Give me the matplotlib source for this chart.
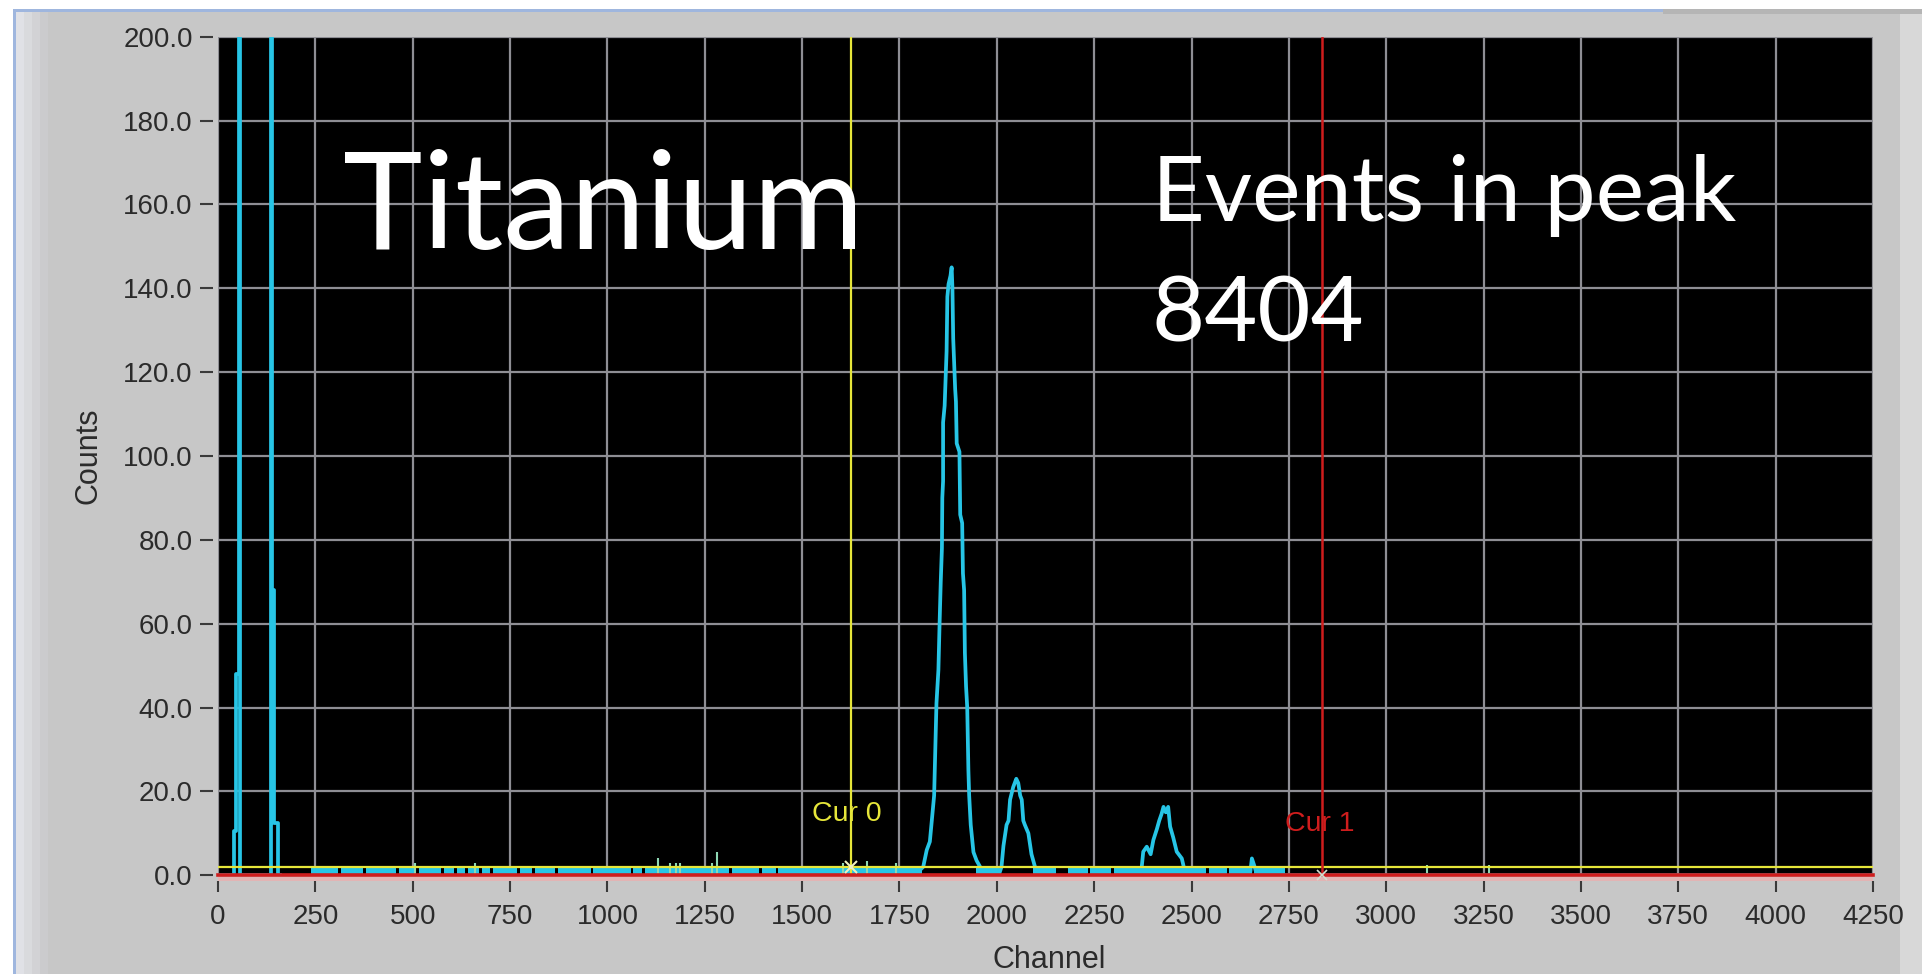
import matplotlib.pyplot as plt
from matplotlib.patches import Rectangle

# MCA spectrum, channel vs counts (points along the trace)
low_ch = [0, 36, 41, 41, 46, 46, 55, 55, 57, 57,
          136, 136, 138, 138, 144, 144, 153, 153, 160]
low_counts = [0, 0, 0, 10.5, 10.5, 48, 48, 350, 350, 0,
              0, 350, 350, 68, 68, 12.5, 12.5, 0, 0]

ka_ch = [1790, 1800, 1811, 1820, 1828, 1833, 1839, 1842, 1845, 1850, 1853,
         1856, 1859, 1860, 1862, 1862, 1866, 1871, 1873, 1876, 1881, 1884,
         1886, 1888, 1893, 1895, 1897, 1904, 1906, 1911, 1913, 1916, 1918,
         1921, 1924, 1927, 1929, 1933, 1940, 1948, 1957, 1965]
ka_counts = [0, 1, 2, 6, 8, 13, 19, 30, 41, 49, 60,
             70, 78, 90, 94, 108, 112, 125, 138, 141, 143, 145,
             140, 128, 116, 113, 103, 101, 86, 84, 72, 68, 53,
             45, 40, 25, 19, 12, 5.5, 3.5, 2, 0]

kb_ch = [2005, 2012, 2017, 2025, 2030, 2034, 2042, 2050, 2055, 2060,
         2064, 2068, 2072, 2081, 2089, 2098, 2105]
kb_counts = [0, 2, 7, 12, 13, 18, 21, 23, 22, 19,
             18, 13, 12, 10, 5, 2, 0]

p3_ch = [2370, 2376, 2385, 2395, 2402, 2411, 2417, 2423, 2428, 2434,
         2440, 2445, 2453, 2462, 2475, 2480, 2488]
p3_counts = [0, 5.6, 6.8, 5, 8.4, 11, 13, 14.6, 16.3, 15,
             16.3, 11.6, 9, 5.6, 4, 2, 0]

p4_ch = [2650, 2655, 2662, 2668, 4250]
p4_counts = [0, 4, 2, 0, 0]

# single-count background, drawn as runs of channels
band_start = [239, 315, 380, 465, 515, 580, 613, 641, 677, 705, 775, 813,
              872, 964, 1066, 1096, 1319, 1396, 1439, 1947, 2093, 2183,
              2240, 2300, 2376, 2496, 2545, 2595, 2660]
band_end = [309, 373, 458, 509, 573, 607, 635, 671, 699, 768, 807, 866,
            958, 1060, 1090, 1313, 1390, 1433, 1808, 2005, 2152, 2234,
            2294, 2370, 2525, 2538, 2590, 2652, 2741]
band_level = 1.0

spike_ch = [505, 660, 1130, 1160, 1175, 1186, 1268, 1281, 1606, 1667, 1740,
            3105, 3265]
spike_counts = [3, 3, 4, 3, 3, 3, 3, 5.5, 3, 3.5, 3, 2.5, 2.5]

cursor0 = (1625, 2.0)
cursor1 = (2836, 0.0)

x_ticks = list(range(0, 4251, 250))
y_ticks = list(range(0, 201, 20))

cyan = '#27c5e6'
yellow = '#e6e63a'
red = '#cf1d1d'

plt.rcParams['font.family'] = ['Liberation Sans', 'DejaVu Sans']

W, H = 1922, 974
fig = plt.figure(figsize=(W / 100, H / 100), dpi=100, facecolor='#c7c7c7')


def panel(x, y, w, h, color):
    # rectangle in pixels, measured from the top-left corner
    fig.add_artist(Rectangle((x / W, 1 - (y + h) / H), w / W, h / H,
                             transform=fig.transFigure, facecolor=color,
                             edgecolor='none', zorder=0))


# window frame
panel(0, 0, W, 9, 'white')
panel(0, 0, 13, H, 'white')
panel(13, 9, 1650, 3, '#9fb6de')
panel(13, 9, 3, H, '#9fb6de')
for i, c in enumerate(['#e0e1e6', '#d9dadd', '#d2d2d5', '#cbcbcd']):
    panel(16 + i * 8, 12, 8, H, c)
panel(1663, 9, W - 1663, 5, '#b5b5b5')
panel(1900, 14, 22, H, '#d8d8d8')
panel(218, 877, 1655, 4, '#e2b4b4')

ax = fig.add_axes([218 / W, 1 - 875.2 / H, 1655 / W, 838.4 / H],
                  facecolor='black')
ax.set_xlim(0, 4250)
ax.set_ylim(0, 200)
ax.set_axisbelow(True)
ax.grid(True, color='#8e8e94', lw=1.6)

ax.hlines([band_level] * len(band_start), band_start, band_end,
          color=cyan, lw=4.4, zorder=2)
ax.vlines(spike_ch, 0, spike_counts, color='#8fd8b4', lw=1.5, zorder=2)
for ch, counts in [(low_ch, low_counts), (ka_ch, ka_counts),
                   (kb_ch, kb_counts), (p3_ch, p3_counts),
                   (p4_ch, p4_counts)]:
    ax.plot(ch, counts, color=cyan, lw=2.7, zorder=3)

# cursors
ax.axvline(cursor0[0], color=yellow, lw=1.6, zorder=4)
ax.axhline(cursor0[1], color=yellow, lw=1.6, zorder=4)
ax.axvline(cursor1[0], color=red, lw=1.8, zorder=4)
ax.axhline(cursor1[1], color=red, lw=2.6, zorder=4, clip_on=False)
ax.plot(*cursor0, marker='x', color='#f0f0c0', ms=9, mew=1.5, zorder=5)
ax.plot(*cursor1, marker='x', color='#d0e0d0', ms=7, mew=1.2, zorder=5,
        clip_on=False)
ax.text(cursor0[0] - 10, 14.6, 'Cur 0', color=yellow, fontsize=20.5,
        ha='center', va='center', zorder=5)
ax.text(cursor1[0] - 7, 12.2, 'Cur 1', color=red, fontsize=20.5,
        ha='center', va='center', zorder=5)

ax.set_xticks(x_ticks)
ax.set_xticklabels([str(t) for t in x_ticks])
ax.set_yticks(y_ticks)
ax.set_yticklabels([f'{t:.1f}' for t in y_ticks])
ax.tick_params(direction='out', color='#3a3a3a', labelcolor='#2b2b2b',
               labelsize=20, width=1.5)
ax.tick_params(axis='y', length=9.5, pad=5)
ax.tick_params(axis='x', length=8, pad=8)
for s in ax.spines.values():
    s.set_visible(False)
ax.spines['left'].set_position(('outward', 3.6))
ax.spines['bottom'].set_position(('outward', 4.5))

ax.set_ylabel('Counts', fontsize=22, color='#2b2b2b', va='center')
ax.yaxis.set_label_coords((89 - 218) / 1655, 0.5)
ax.set_xlabel('Channel', fontsize=22, color='#2b2b2b', va='center')
ax.xaxis.set_label_coords((1049 - 218) / 1655, (875.2 - 960) / 838.4)

fig.text(343 / W, 1 - 249 / H, 'Titanium', family='Lato', fontsize=97,
         color='white', va='baseline')
fig.text(1152 / W, 1 - 221 / H, 'Events in peak', family='Lato', fontsize=66,
         color='white', va='baseline')
fig.text(1152 / W, 1 - 341 / H, '8404', family='Lato', fontsize=66,
         color='white', va='baseline')

fig.savefig('out.png', dpi=100, facecolor=fig.get_facecolor())
